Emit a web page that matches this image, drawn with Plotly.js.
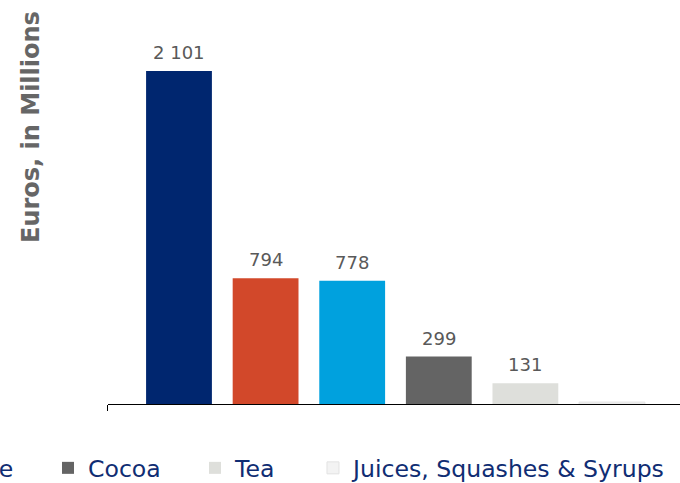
<!DOCTYPE html>
<html>
<head>
<meta charset="utf-8">
<script src="https://cdn.plot.ly/plotly-3.0.1.min.js"></script>
<style>
html, body { margin: 0; padding: 0; width: 680px; height: 483px; overflow: hidden; background: #ffffff; }
#wrap { position: absolute; left: -200px; top: 0; width: 890px; height: 483px; }
</style>
</head>
<body>
<div id="wrap"></div>
<script>
// ---- data ----
const categories = ['', '', 'Coffee', 'Cocoa', 'Tea', 'Juices, Squashes & Syrups'];
const values = [2101, 794, 778, 299, 131, 12];
const showValueLabel = [true, true, true, true, true, false];
const axisTitle = 'Euros, in Millions';

// ---- styles ----
const barColors = ['#00266F', '#D2482A', '#00A1DE', '#646464', '#DEDFDB', '#F3F3F3'];
const barLineColors = ['#00266F', '#D2482A', '#00A1DE', '#646464', '#DEDFDB', '#E2E2E2'];
const legendItemWidths = [0, 0, 106, 102, 73, 0];
const FONT = 'DejaVu Sans, Verdana, sans-serif';

// thousands separator as a space, as in the reference ("2 101")
const fmt = v => String(v).replace(/\B(?=(\d{3})+(?!\d))/g, ' ');

const traces = categories.map((name, i) => ({
  type: 'bar',
  x: [i],
  y: [values[i]],
  name: name,
  showlegend: name !== '',
  width: 0.76,
  marker: { color: barColors[i], line: { color: barLineColors[i], width: i === 5 ? 1 : 0 } },
  legendwidth: legendItemWidths[i] || undefined,
  hoverinfo: 'skip'
}));

const valueLabels = values
  .map((v, i) => ({
    x: i,
    y: v,
    xref: 'x',
    yref: 'y',
    text: fmt(v),
    showarrow: false,
    xanchor: 'center',
    yanchor: 'middle',
    yshift: 18.5,
    font: { family: FONT, size: 18, color: '#595959' }
  }))
  .filter((a, i) => showValueLabel[i]);

const layout = {
  width: 890,
  height: 483,
  margin: { l: 20, r: 7, t: 20, b: 79, autoexpand: false },
  paper_bgcolor: '#ffffff',
  plot_bgcolor: '#ffffff',
  barmode: 'overlay',
  showlegend: true,
  font: { family: FONT },
  xaxis: {
    domain: [0.3337, 1],
    range: [-0.82, 5.82],
    showline: true,
    linecolor: '#000000',
    linewidth: 1,
    ticks: 'outside',
    tickvals: [-0.82],
    ticklen: 6,
    tickcolor: '#000000',
    showticklabels: false,
    showgrid: false,
    zeroline: false,
    fixedrange: true
  },
  yaxis: {
    range: [0, 2422.8],
    showgrid: false,
    zeroline: false,
    showline: false,
    showticklabels: false,
    fixedrange: true
  },
  legend: {
    orientation: 'h',
    xref: 'paper',
    yref: 'paper',
    x: 0.0892,
    xanchor: 'left',
    y: -0.1667,
    yanchor: 'middle',
    bgcolor: 'rgba(0,0,0,0)',
    borderwidth: 0,
    font: { family: FONT, size: 23.6, color: '#102D73' },
    traceorder: 'normal'
  },
  annotations: valueLabels.concat([{
    text: axisTitle,
    xref: 'paper',
    yref: 'paper',
    x: 0.2445,
    y: 0.7214,
    xanchor: 'center',
    yanchor: 'middle',
    textangle: -90,
    showarrow: false,
    font: { family: FONT, size: 24, color: '#666666', weight: 'bold' }
  }])
};

Plotly.newPlot('wrap', traces, layout, { displayModeBar: false, staticPlot: true });
</script>
</body>
</html>
